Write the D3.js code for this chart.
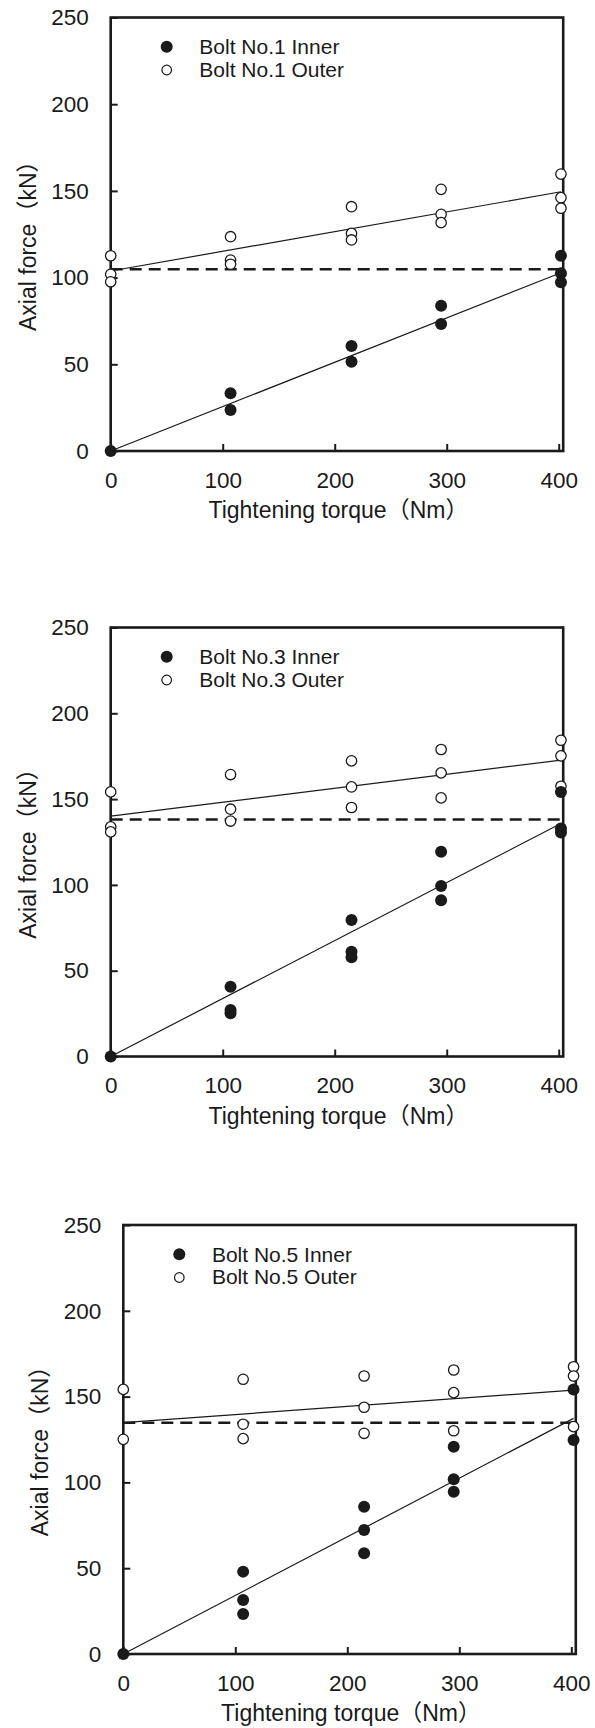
<!DOCTYPE html>
<html>
<head>
<meta charset="utf-8">
<script src="https://cdn.jsdelivr.net/npm/d3@7"></script>
<style>
  body { margin: 0; background: #fff; }
  text { fill: #1a1a1a; }
  .tick text { font-family: "Liberation Sans", Arial, sans-serif; font-size: 22.5px; }
  .title { font-family: "Liberation Sans", Arial, "Noto Sans CJK JP", sans-serif; font-size: 23px; }
  .legend text { font-family: "Liberation Sans", Arial, sans-serif; font-size: 21px; }
</style>
</head>
<body>
<svg class="chart"></svg>
<script>
// torque steps (Nm) and axis ticks
var torque = [0, 107, 215, 295, 402];
var xTicks = [0, 100, 200, 300, 400];
var yTicks = [0, 50, 100, 150, 200, 250];
var boltNames = ["Bolt No.1", "Bolt No.3", "Bolt No.5"];

// measured axial force (kN), one list per torque step
var bolt1Inner = [[0], [33.3, 23.6], [60.6, 51.5], [83.8, 73.2], [112.6, 102.5, 97.3]];
var bolt1Outer = [[112.6, 101.9, 97.6], [123.6, 110.1, 107.7], [140.9, 125.5, 121.7], [150.9, 136.5, 131.7], [159.7, 146.1, 140.0]];
var bolt3Inner = [[0], [40.7, 27.1, 25.2], [79.5, 61.0, 57.8], [119.3, 99.3, 91.1], [154.2, 132.9, 130.6]];
var bolt3Outer = [[154.2, 133.8, 130.9], [164.3, 144.1, 137.2], [172.3, 157.1, 145.1], [178.9, 165.3, 150.7], [184.3, 175.2, 157.5]];
var bolt5Inner = [[0], [48.0, 31.5, 23.3], [85.8, 72.3, 58.7], [120.8, 101.8, 94.6], [154.2, 124.7]];
var bolt5Outer = [[154.2, 125.1], [160.1, 133.9, 125.5], [162.0, 143.8, 128.6], [165.5, 152.3, 130.1], [167.4, 162.0, 132.5]];

// fitted lines, value at torque 0 and at 402 Nm
var fitTorque = [0, 402];
var innerFit = [[0, 102.8], [0, 135.8], [0, 137.3]];
var outerFit = [[103.8, 149.5], [140.1, 172.7], [134.8, 153.8]];
// initial axial force (dashed)
var initialForce = [104.8, 138.1, 134.8];

var innerData = [bolt1Inner, bolt3Inner, bolt5Inner];
var outerData = [bolt1Outer, bolt3Outer, bolt5Outer];

// layout of the three panels
var panelLeft = [110.7, 110.7, 123.3],
    panelTop = [17.5, 627.5, 1225],
    panelBottom = [451, 1056.5, 1654],
    panelWidth = 452.5;

var chart = d3.select(".chart")
    .attr("width", 595)
    .attr("height", 1728);

function flatten(series) {
  var out = [];
  series.forEach(function(vals, i) {
    vals.forEach(function(v) { out.push({x: torque[i], y: v}); });
  });
  return out;
}

boltNames.forEach(function(name, p) {
  var height = panelBottom[p] - panelTop[p];

  var xScale = d3.scaleLinear().domain([0, 404]).range([0, panelWidth]);
  var yScale = d3.scaleLinear().domain([0, 250]).range([height, 0]);

  var g = chart.append("g")
      .attr("transform", "translate(" + panelLeft[p] + "," + panelTop[p] + ")");

  // axes with inward ticks
  var xAxis = d3.axisBottom(xScale).tickValues(xTicks).tickSize(-7).tickPadding(21);
  var yAxis = d3.axisLeft(yScale).tickValues(yTicks).tickSize(-7).tickPadding(22);

  g.append("g")
      .attr("class", "x axis")
      .attr("transform", "translate(0," + height + ")")
      .call(xAxis);
  g.append("g")
      .attr("class", "y axis")
      .call(yAxis);
  g.selectAll(".axis .domain").remove();
  g.selectAll(".axis .tick line").attr("stroke", "#1a1a1a").attr("stroke-width", 2);
  g.selectAll(".axis .tick text").attr("fill", "#1a1a1a");

  // frame
  g.append("rect")
      .attr("width", panelWidth)
      .attr("height", height)
      .attr("fill", "none")
      .attr("stroke", "#1a1a1a")
      .attr("stroke-width", 2.6);

  // dashed initial force
  g.append("line")
      .attr("x1", xScale(0))
      .attr("x2", xScale(404))
      .attr("y1", yScale(initialForce[p]))
      .attr("y2", yScale(initialForce[p]))
      .attr("stroke", "#1a1a1a")
      .attr("stroke-width", 2.6)
      .attr("stroke-dasharray", "12,7");

  // fitted lines
  var line = d3.line()
      .x(function(d, i) { return xScale(fitTorque[i]); })
      .y(function(d) { return yScale(d); });
  [outerFit[p], innerFit[p]].forEach(function(f) {
    g.append("path")
        .attr("d", line(f))
        .attr("fill", "none")
        .attr("stroke", "#1a1a1a")
        .attr("stroke-width", 1.2);
  });

  // points
  g.selectAll(".outer")
      .data(flatten(outerData[p]))
    .enter().append("circle")
      .attr("class", "outer")
      .attr("r", 5.2)
      .attr("cx", function(d) { return xScale(d.x); })
      .attr("cy", function(d) { return yScale(d.y); })
      .attr("fill", "#fff")
      .attr("stroke", "#1a1a1a")
      .attr("stroke-width", 1.3);

  g.selectAll(".inner")
      .data(flatten(innerData[p]))
    .enter().append("circle")
      .attr("class", "inner")
      .attr("r", 6)
      .attr("cx", function(d) { return xScale(d.x); })
      .attr("cy", function(d) { return yScale(d.y); })
      .attr("fill", "#1a1a1a");

  // legend
  var legend = g.append("g").attr("class", "legend");
  legend.append("circle")
      .attr("cx", 56).attr("cy", 29.2).attr("r", 6)
      .attr("fill", "#1a1a1a");
  legend.append("circle")
      .attr("cx", 56).attr("cy", 52.5).attr("r", 4.8)
      .attr("fill", "#fff").attr("stroke", "#1a1a1a").attr("stroke-width", 1.2);
  legend.append("text")
      .attr("x", 88.6).attr("y", 36.8)
      .text(name + " Inner");
  legend.append("text")
      .attr("x", 88.6).attr("y", 59.2)
      .text(name + " Outer");

  // axis titles
  g.append("text")
      .attr("class", "title")
      .attr("x", panelWidth / 2 + 1.5)
      .attr("y", height + 67)
      .style("text-anchor", "middle")
      .text("Tightening torque（Nm）");

  g.append("text")
      .attr("class", "title")
      .attr("transform", "translate(-75," + (height / 2 + 6) + ") rotate(-90)")
      .style("text-anchor", "middle")
      .text("Axial force（kN）");
});
</script>
</body>
</html>
